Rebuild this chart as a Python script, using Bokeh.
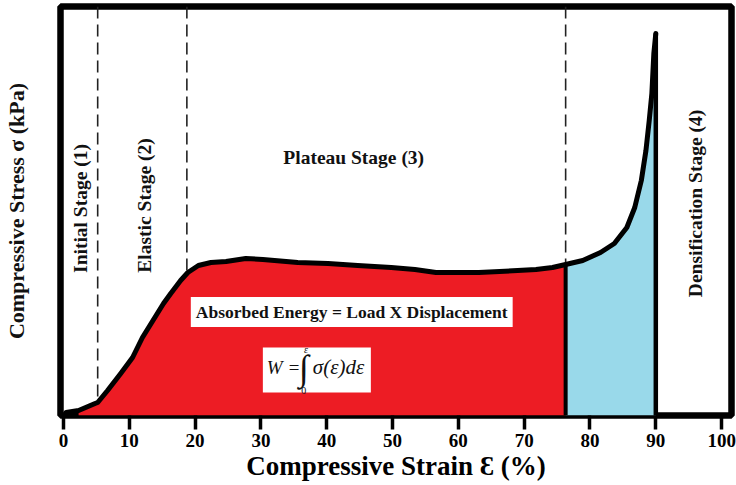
import numpy as np
from bokeh.plotting import figure
from bokeh.models import Range1d, FixedTicker, Span, Label
from bokeh.embed import file_html
from bokeh.resources import INLINE

# ---- data ----
strain = [0.4, 2.3, 4.8, 5.2, 6.7, 8.7, 10.5, 12.0, 13.6, 15.2,
          16.3, 17.8, 18.9, 20.5, 22.4, 24.7, 27.7, 30.3, 35.6, 40.2,
          44.7, 49.8, 53.4, 56.6, 63.1, 69.0, 71.8, 74.3, 76.3, 77.6,
          78.9, 81.6, 83.7, 85.6, 86.8, 87.8, 88.5, 89.0, 89.4, 89.7,
          90.0]
stress = [3, 5, 12, 13, 25, 42, 58, 78, 95, 112,
          122, 135, 143, 150, 153, 154, 157, 156, 153, 152,
          150, 148, 146, 143, 143, 145, 146, 148, 151, 153,
          155, 163, 172, 188, 208, 235, 265, 295, 322, 362,
          382]
stage_bounds = [5.2, 18.75, 76.3]      # dashed stage boundaries (strain %)
absorb_start = 2.3                       # start of red absorbed-energy area
densify_end = 90.0                       # end of densification area
x_ticks = [0, 10, 20, 30, 40, 50, 60, 70, 80, 90, 100]

stage_labels = ["Initial Stage (1)", "Elastic Stage (2)",
                "Plateau Stage (3)", "Densification Stage (4)"]
energy_text = "Absorbed Energy = Load X Displacement"
x_title = "Compressive Strain \u0190 (%)"
y_title = "Compressive Stress \u03c3 (kPa)"

s = np.array(strain)
t = np.array(stress, dtype=float)

p = figure(width=736, height=485,
           x_range=Range1d(-0.45, 101.5), y_range=Range1d(0, 409),
           output_backend="svg", toolbar_location=None,
           min_border_left=60, min_border_right=5,
           min_border_top=6, min_border_bottom=70)

p.xgrid.visible = False
p.ygrid.visible = False
p.background_fill_color = "white"
p.border_fill_color = "white"
p.outline_line_color = "black"
p.outline_line_width = 6.5
p.outline_line_alpha = 1.0

SERIF = "Liberation Serif"

# x axis
p.xaxis.ticker = FixedTicker(ticks=x_ticks, minor_ticks=[])
p.xaxis.axis_line_color = None
p.xaxis.major_tick_line_color = "black"
p.xaxis.major_tick_line_width = 3.5
p.xaxis.major_tick_in = 0
p.xaxis.major_tick_out = 14
p.xaxis.minor_tick_line_color = None
p.xaxis.major_label_text_font = SERIF
p.xaxis.major_label_text_font_style = "bold"
p.xaxis.major_label_text_font_size = "19px"
p.xaxis.major_label_text_color = "black"
p.xaxis.major_label_standoff = 4
p.xaxis.axis_label = x_title
p.xaxis.axis_label_text_font = SERIF
p.xaxis.axis_label_text_font_style = "bold"
p.xaxis.axis_label_text_font_size = "27px"
p.xaxis.axis_label_text_color = "black"
p.xaxis.axis_label_standoff = 1

# y axis: title only, no ticks or tick labels
p.yaxis.ticker = FixedTicker(ticks=[], minor_ticks=[])
p.yaxis.axis_line_color = None
p.yaxis.major_tick_in = 0
p.yaxis.major_tick_out = 0
p.yaxis.minor_tick_in = 0
p.yaxis.minor_tick_out = 0
p.yaxis.major_label_text_font_size = "0px"
p.yaxis.axis_label = y_title
p.yaxis.axis_label_text_font = SERIF
p.yaxis.axis_label_text_font_style = "bold"
p.yaxis.axis_label_text_font_size = "22px"
p.yaxis.axis_label_text_color = "#111111"
p.yaxis.axis_label_standoff = 32

# dashed stage boundaries (under the fills)
for b in stage_bounds:
    p.add_layout(Span(location=b, dimension="height", line_color="#222222",
                      line_width=1.6, line_dash="12 6", level="underlay"))

# fills
red = (s >= absorb_start) & (s <= stage_bounds[2])
blue = (s >= stage_bounds[2]) & (s <= densify_end)
p.varea(x=s[red], y1=0, y2=t[red], fill_color="#ED1C24")
p.varea(x=s[blue], y1=0, y2=t[blue], fill_color="#99D9EA")

# curve
p.line(s, t, line_color="black", line_width=5, line_join="round", line_cap="round")
b_idx = int(np.argmin(np.abs(s - stage_bounds[2])))
p.segment(x0=[stage_bounds[2]], y0=[0], x1=[stage_bounds[2]], y1=[t[b_idx]],
          line_color="black", line_width=4)
p.segment(x0=[densify_end], y0=[0], x1=[densify_end], y1=[t[-1]],
          line_color="black", line_width=4.5)

common = dict(text_font=SERIF, text_font_style="bold", text_color="#111111",
              text_align="center", text_baseline="middle")

# stage labels
p.add_layout(Label(x=2.6, y=207, angle=np.pi / 2, text=stage_labels[0],
                   text_font_size="19.5px", **common))
p.add_layout(Label(x=12.3, y=210, angle=np.pi / 2, text=stage_labels[1],
                   text_font_size="19.5px", **common))
p.add_layout(Label(x=44.1, y=258, text=stage_labels[2],
                   text_font_size="19.5px", **common))
p.add_layout(Label(x=96.1, y=212, angle=np.pi / 2, text=stage_labels[3],
                   text_font_size="19.5px", **common))

# absorbed-energy box
p.add_layout(Label(x=43.8, y=103.5, text=energy_text, text_font_size="17.5px",
                   background_fill_color="white", padding=5, **common))

# formula box
fx, fy = 38.5, 45.5
p.add_layout(Label(x=fx, y=fy, text="\u2003" * 4, text_font_size="22px",
                   text_align="center", text_baseline="middle",
                   background_fill_color="white", padding=10))
fcommon = dict(text_font=SERIF, text_color="#111111", text_baseline="middle")
p.add_layout(Label(x=fx, y=fy, x_offset=-50, y_offset=3, text="W =",
                   text_font_style="italic", text_font_size="19px",
                   text_align="left", **fcommon))
p.add_layout(Label(x=fx, y=fy, x_offset=-13, y_offset=2, text="\u222b",
                   text_font_size="36px", text_align="center", **fcommon))
p.add_layout(Label(x=fx, y=fy, x_offset=-11, y_offset=21, text="\u03b5",
                   text_font_style="italic", text_font_size="10px",
                   text_align="center", **fcommon))
p.add_layout(Label(x=fx, y=fy, x_offset=-13, y_offset=-20, text="0",
                   text_font_size="10px", text_align="center", **fcommon))
p.add_layout(Label(x=fx, y=fy, x_offset=-4, y_offset=3,
                   text="\u03c3(\u03b5)d\u03b5",
                   text_font_style="italic", text_font_size="21px",
                   text_align="left", **fcommon))

open("out.html", "w").write(file_html(p, INLINE))
